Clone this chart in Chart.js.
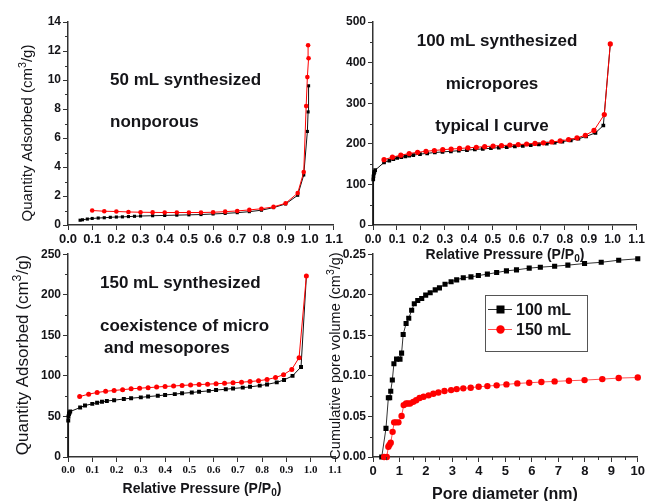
<!DOCTYPE html>
<html><head><meta charset="utf-8">
<script src="https://cdn.jsdelivr.net/npm/chart.js@4.4.1/dist/chart.umd.min.js"></script>
<style>
html,body{margin:0;padding:0;background:#fff;}
#wrap{position:relative;width:647px;height:501px;overflow:hidden;background:#fff;}
canvas{position:absolute;}
</style></head><body>
<div id="wrap">
<canvas id="c1" width="345" height="250" style="left:0;top:0"></canvas>
<canvas id="c3" width="345" height="256" style="left:0;top:245px"></canvas>
<canvas id="c4" width="327" height="256" style="left:320px;top:245px"></canvas>
<canvas id="c2" width="317" height="262" style="left:330px;top:0"></canvas>
</div>
<script>
// ---------- tick labels ----------
const xTicksIso = [0,0.1,0.2,0.3,0.4,0.5,0.6,0.7,0.8,0.9,1.0,1.1];
const yTicks50 = [0,2,4,6,8,10,12,14];
const yTicks100 = [0,100,200,300,400,500];
const yTicks150 = [0,50,100,150,200,250];
const xTicksPore = [0,1,2,3,4,5,6,7,8,9,10];
const yTicksPore = [0,0.05,0.10,0.15,0.20,0.25];

// ---------- 50 mL isotherm ----------
const x50Black = [0.05,0.06,0.08,0.1,0.125,0.15,0.175,0.2,0.225,0.25,0.275,0.3,0.35,0.4,0.45,0.5,0.55,0.6,0.65,0.7,0.75,0.8,0.85,0.9,0.95,0.975,0.99,0.993,0.995];
const y50Black = [0.33,0.36,0.41,0.45,0.48,0.5,0.53,0.55,0.56,0.58,0.6,0.62,0.64,0.66,0.68,0.7,0.72,0.76,0.8,0.85,0.92,1.02,1.2,1.45,2.05,3.45,6.45,7.8,9.6];
const x50Red = [0.1,0.15,0.2,0.25,0.3,0.35,0.4,0.45,0.5,0.55,0.6,0.65,0.7,0.75,0.8,0.85,0.9,0.95,0.975,0.985,0.99,0.995,0.993];
const y50Red = [1.0,0.95,0.93,0.9,0.88,0.87,0.86,0.86,0.86,0.86,0.88,0.92,0.97,1.04,1.12,1.25,1.5,2.2,3.65,8.2,10.2,11.5,12.4];

// ---------- 100 mL isotherm ----------
const x100Black = [0,0.001,0.002,0.004,0.006,0.009,0.046,0.068,0.085,0.101,0.118,0.135,0.151,0.168,0.196,0.226,0.258,0.29,0.325,0.358,0.392,0.425,0.458,0.492,0.525,0.558,0.592,0.625,0.658,0.692,0.725,0.758,0.79,0.825,0.857,0.889,0.928,0.961,0.99];
const y100Black = [0,112,120,127,131,135,154,158.5,162,165,167,169,170.5,172,174.5,176.5,178.5,180,181.5,183,184.5,186,187.5,189,190.5,192,193.5,195,196.5,198.5,200.5,202.5,205.5,208.5,212.5,218,227,245,445];
const x100Red = [0.046,0.081,0.116,0.151,0.186,0.221,0.256,0.291,0.326,0.361,0.396,0.431,0.466,0.501,0.536,0.571,0.606,0.641,0.676,0.711,0.746,0.781,0.816,0.851,0.886,0.922,0.965,0.99];
const y100Red = [161,167,172,176,179,181.5,183.5,185.5,187,188.5,190,191.5,193,194.5,195.5,197,198,199.5,201,202.5,204.5,207,210.5,214.5,221,233,272,446];

// ---------- 150 mL isotherm ----------
const x150Black = [0,0.001,0.002,0.004,0.006,0.009,0.05,0.07,0.1,0.12,0.14,0.16,0.19,0.23,0.26,0.3,0.33,0.37,0.4,0.44,0.47,0.51,0.54,0.58,0.61,0.65,0.68,0.72,0.75,0.79,0.82,0.86,0.89,0.925,0.96,0.982];
const y150Black = [0,45,50,53,54.5,56,61,63.5,65.5,67,68,69,70,71.5,72.5,73.5,74.5,75.5,76.5,77.5,78.5,79.5,80.5,81.5,82.5,83.5,84.5,85.5,86.5,88,89.5,92,95,100,111,222];
const x150Red = [0.048,0.085,0.12,0.155,0.19,0.225,0.26,0.295,0.33,0.365,0.4,0.435,0.47,0.505,0.54,0.575,0.61,0.645,0.68,0.715,0.75,0.785,0.82,0.855,0.888,0.922,0.952,0.982];
const y150Red = [74.5,77.5,79.5,81,82,83,84,84.8,85.5,86.2,87,87.5,88.2,88.8,89.3,89.8,90.3,90.9,91.5,92.2,93,94,95.5,98,101.5,108,122.5,223];

// ---------- pore volume ----------
const poreCats = ['100 mL','150 mL'];
const xPore100 = [0.33,0.49,0.58,0.63,0.67,0.73,0.79,0.89,1.02,1.08,1.14,1.25,1.35,1.46,1.56,1.69,1.84,1.99,2.16,2.35,2.51,2.72,2.95,3.16,3.41,3.7,3.98,4.32,4.67,5.04,5.42,5.9,6.32,6.86,7.36,7.99,8.62,9.28,10.0];
const yPore100 = [0,0.0353,0.073,0.073,0.081,0.095,0.115,0.1207,0.1207,0.128,0.151,0.1646,0.171,0.181,0.189,0.193,0.1954,0.1995,0.2024,0.206,0.2085,0.213,0.216,0.2184,0.221,0.222,0.2237,0.2254,0.2274,0.2295,0.2307,0.2328,0.234,0.2352,0.2365,0.2385,0.240,0.2426,0.2443];
const xPore150 = [0.42,0.52,0.58,0.62,0.67,0.74,0.8,0.87,0.96,1.08,1.16,1.25,1.32,1.4,1.52,1.63,1.76,1.91,2.1,2.28,2.47,2.7,2.95,3.16,3.41,3.69,3.99,4.32,4.67,5.04,5.45,5.9,6.36,6.86,7.4,7.99,8.66,9.28,10.0];
const yPore150 = [0,0,0.0127,0.015,0.0177,0.031,0.0427,0.0427,0.0427,0.0505,0.064,0.066,0.066,0.066,0.068,0.070,0.0727,0.0743,0.076,0.078,0.0796,0.0813,0.0825,0.0837,0.0846,0.0854,0.0866,0.0874,0.0883,0.0895,0.0907,0.0915,0.0924,0.0932,0.094,0.0948,0.096,0.0973,0.098];

// ---------- helpers ----------
const SANS = 'Arial, "Liberation Sans", Helvetica, sans-serif';
const SERIF = '"Times New Roman", "Liberation Serif", serif';
const TXT = '#141418';
const pts = (xs, ys) => xs.map((x, i) => ({x, y: ys[i]}));

function scaleCfg(axis, min, max, ticksArr, fmt, font, size) {
  return {
    type: 'linear', min, max,
    afterBuildTicks: s => { s.ticks = ticksArr.map(v => ({value: v})); },
    afterFit: s => { if (axis === 'x') s.height = size; else s.width = size; },
    ticks: {callback: v => fmt(v), font, color: TXT, padding: 2, autoSkip: false, maxRotation: 0, minRotation: 0},
    grid: {drawOnChartArea: false, drawTicks: true, tickLength: 5, tickWidth: 1, tickColor: '#333'},
    border: {display: true, color: '#333', width: 1.5}
  };
}

function richText(ctx, segs, x, y, size, weight, family, rotate, align) {
  ctx.save();
  ctx.translate(x, y);
  if (rotate) ctx.rotate(-Math.PI / 2);
  ctx.fillStyle = TXT;
  ctx.textAlign = 'left';
  ctx.textBaseline = 'alphabetic';
  let total = 0;
  const parts = segs.map(s => {
    const fs = (s.sup || s.sub) ? size * 0.72 : size;
    ctx.font = `${weight} ${fs}px ${family}`;
    const w = ctx.measureText(s.t).width;
    total += w;
    return {s, fs, w};
  });
  let cx = align === 'left' ? 0 : -total / 2;
  const base = size * 0.36;
  for (const p of parts) {
    ctx.font = `${weight} ${p.fs}px ${family}`;
    const dy = p.s.sup ? -size * 0.4 : (p.s.sub ? size * 0.22 : 0);
    ctx.fillText(p.s.t, cx, base + dy);
    cx += p.w;
  }
  ctx.restore();
}

function decoPlugin(id, minor, draw) {
  return {
    id,
    afterDraw(chart) {
      const ctx = chart.ctx;
      ctx.save();
      ctx.strokeStyle = '#333';
      ctx.lineWidth = 1;
      for (const axis of Object.keys(minor)) {
        const s = chart.scales[axis];
        const step = minor[axis];
        const majors = s.ticks.map(t => t.value);
        for (let k = 0; ; k++) {
          const v = s.min + step * k;
          if (v > s.max + 1e-9) break;
          if (majors.some(m => Math.abs(m - v) < 1e-9)) continue;
          ctx.beginPath();
          if (axis === 'x') {
            const px = Math.round(s.getPixelForValue(v)) + 0.5;
            ctx.moveTo(px, s.top); ctx.lineTo(px, s.top + 3);
          } else {
            const py = Math.round(s.getPixelForValue(v)) + 0.5;
            ctx.moveTo(s.left + s.width - 3, py); ctx.lineTo(s.left + s.width, py);
          }
          ctx.stroke();
        }
      }
      ctx.restore();
      draw(chart.ctx, chart);
    }
  };
}

function make(id, datasets, xs, ys, pad, plugin) {
  return new Chart(document.getElementById(id), {
    type: 'scatter',
    data: {datasets},
    options: {
      responsive: false, animation: false, events: [],
      layout: {padding: pad, autoPadding: false},
      plugins: {legend: {display: false}, tooltip: {enabled: false}},
      scales: {x: xs, y: ys}
    },
    plugins: [plugin]
  });
}

function series(xs, ys, color, lineColor, style, r, order, hideEnds) {
  const n = xs.length;
  return {
    data: pts(xs, ys), showLine: true, order,
    borderColor: lineColor, borderWidth: 1,
    backgroundColor: color, pointBackgroundColor: color, pointBorderColor: color, pointBorderWidth: 0,
    pointStyle: style,
    pointRadius: hideEnds ? (c => (c.dataIndex === 0 || c.dataIndex === n - 1) ? 0 : r) : r,
    clip: 8, tension: 0
  };
}

const f1 = v => v.toFixed(1);
const f0 = v => String(Math.round(v));
const f2 = v => v.toFixed(2);
const bold = (s, fam) => ({size: s, weight: 'bold', family: fam || SANS});

// ---------- panel 1: 50 mL ----------
make('c1',
  [series(x50Black, y50Black, '#000', '#111', 'rect', 2.2, 1, false),
   series(x50Red, y50Red, '#ff0000', '#ff0000', 'circle', 2.3, 0, false)],
  scaleCfg('x', 0, 1.1, xTicksIso, f1, bold(13), 25),
  scaleCfg('y', 0, 14, yTicks50, f0, bold(12), 68),
  {left: 0, top: 22, right: 10, bottom: 0},
  decoPlugin('d1', {y: 1}, (ctx) => {
    richText(ctx, [{t: 'Quantity Adsorbed (cm'}, {t: '3', sup: true}, {t: '/g)'}], 27, 133, 15, 'normal', SANS, true);
    richText(ctx, [{t: '50 mL synthesized'}], 110, 79, 17, 'bold', SANS, false, 'left');
    richText(ctx, [{t: 'nonporous'}], 110, 121, 17, 'bold', SANS, false, 'left');
  })
);

// ---------- panel 2: 100 mL ----------
make('c2',
  [series(x100Black, y100Black, '#000', '#111', 'rect', 2.6, 1, true),
   series(x100Red, y100Red, '#ff0000', '#ff0000', 'circle', 2.6, 0, false)],
  scaleCfg('x', 0, 1.1, xTicksIso, f1, bold(12), 37),
  scaleCfg('y', 0, 500, yTicks100, f0, bold(12), 43),
  {left: 0, top: 22, right: 9, bottom: 0},
  decoPlugin('d2', {y: 50}, (ctx) => {
    richText(ctx, [{t: 'Relative Pressure (P/P'}, {t: '0', sub: true}, {t: ')'}], 175, 254, 14, 'bold', SANS, false);
    richText(ctx, [{t: '100 mL synthesized'}], 167, 40, 17, 'bold', SANS, false);
    richText(ctx, [{t: 'micropores'}], 162, 83, 17, 'bold', SANS, false);
    richText(ctx, [{t: 'typical I curve'}], 162, 125, 17, 'bold', SANS, false);
  })
);

// ---------- panel 3: 150 mL ----------
make('c3',
  [series(x150Black, y150Black, '#000', '#111', 'rect', 2.8, 1, true),
   series(x150Red, y150Red, '#ff0000', '#ff0000', 'circle', 2.5, 0, false)],
  scaleCfg('x', 0, 1.1, xTicksIso, f1, bold(11, SERIF), 44),
  scaleCfg('y', 0, 250, yTicks150, f0, bold(12), 68),
  {left: 0, top: 8, right: 10, bottom: 0},
  decoPlugin('d3', {y: 25}, (ctx) => {
    richText(ctx, [{t: 'Quantity Adsorbed (cm'}, {t: '3', sup: true}, {t: '/g)'}], 22, 110, 17, 'normal', SANS, true);
    richText(ctx, [{t: 'Relative Pressure (P/P'}, {t: '0', sub: true}, {t: ')'}], 202, 243, 14, 'bold', SANS, false);
    richText(ctx, [{t: '150 mL synthesized'}], 100, 37, 17, 'bold', SANS, false, 'left');
    richText(ctx, [{t: 'coexistence of micro'}], 100, 80, 17, 'bold', SANS, false, 'left');
    richText(ctx, [{t: 'and mesopores'}], 104, 102, 17, 'bold', SANS, false, 'left');
  })
);

// ---------- panel 4: pore volume ----------
make('c4',
  [series(xPore100, yPore100, '#000', '#333', 'rect', 3.6, 1, false),
   series(xPore150, yPore150, '#ff0000', '#ff5050', 'circle', 3.2, 0, false)],
  scaleCfg('x', 0, 10, xTicksPore, f0, bold(13), 44),
  scaleCfg('y', 0, 0.25, yTicksPore, f2, bold(12), 53),
  {left: 0, top: 9, right: 9, bottom: 0},
  decoPlugin('d4', {x: 0.5, y: 0.025}, (ctx) => {
    richText(ctx, [{t: 'Cumulative pore volume (cm'}, {t: '3', sup: true}, {t: '/g)'}], 15, 111, 14.5, 'normal', SANS, true);
    richText(ctx, [{t: 'Pore diameter (nm)'}], 185, 248, 16, 'bold', SANS, false);
    // legend box
    ctx.save();
    ctx.strokeStyle = '#555'; ctx.lineWidth = 1;
    ctx.strokeRect(165.5, 50.5, 102, 56);
    const rows = [{y: 64, c: '#000', l: '#333', s: 'rect'}, {y: 84, c: '#ff0000', l: '#ff5050', s: 'circle'}];
    rows.forEach((r, i) => {
      ctx.strokeStyle = r.l; ctx.lineWidth = 1;
      ctx.beginPath(); ctx.moveTo(168, r.y + 0.5); ctx.lineTo(192, r.y + 0.5); ctx.stroke();
      ctx.fillStyle = r.c;
      if (r.s === 'rect') ctx.fillRect(176.5, r.y - 3.5, 8, 8);
      else { ctx.beginPath(); ctx.arc(180.5, r.y + 0.5, 4.2, 0, Math.PI * 2); ctx.fill(); }
      richText(ctx, [{t: poreCats[i]}], 196, r.y, 16, 'bold', SANS, false, 'left');
    });
    ctx.restore();
  })
);
</script>
</body></html>
